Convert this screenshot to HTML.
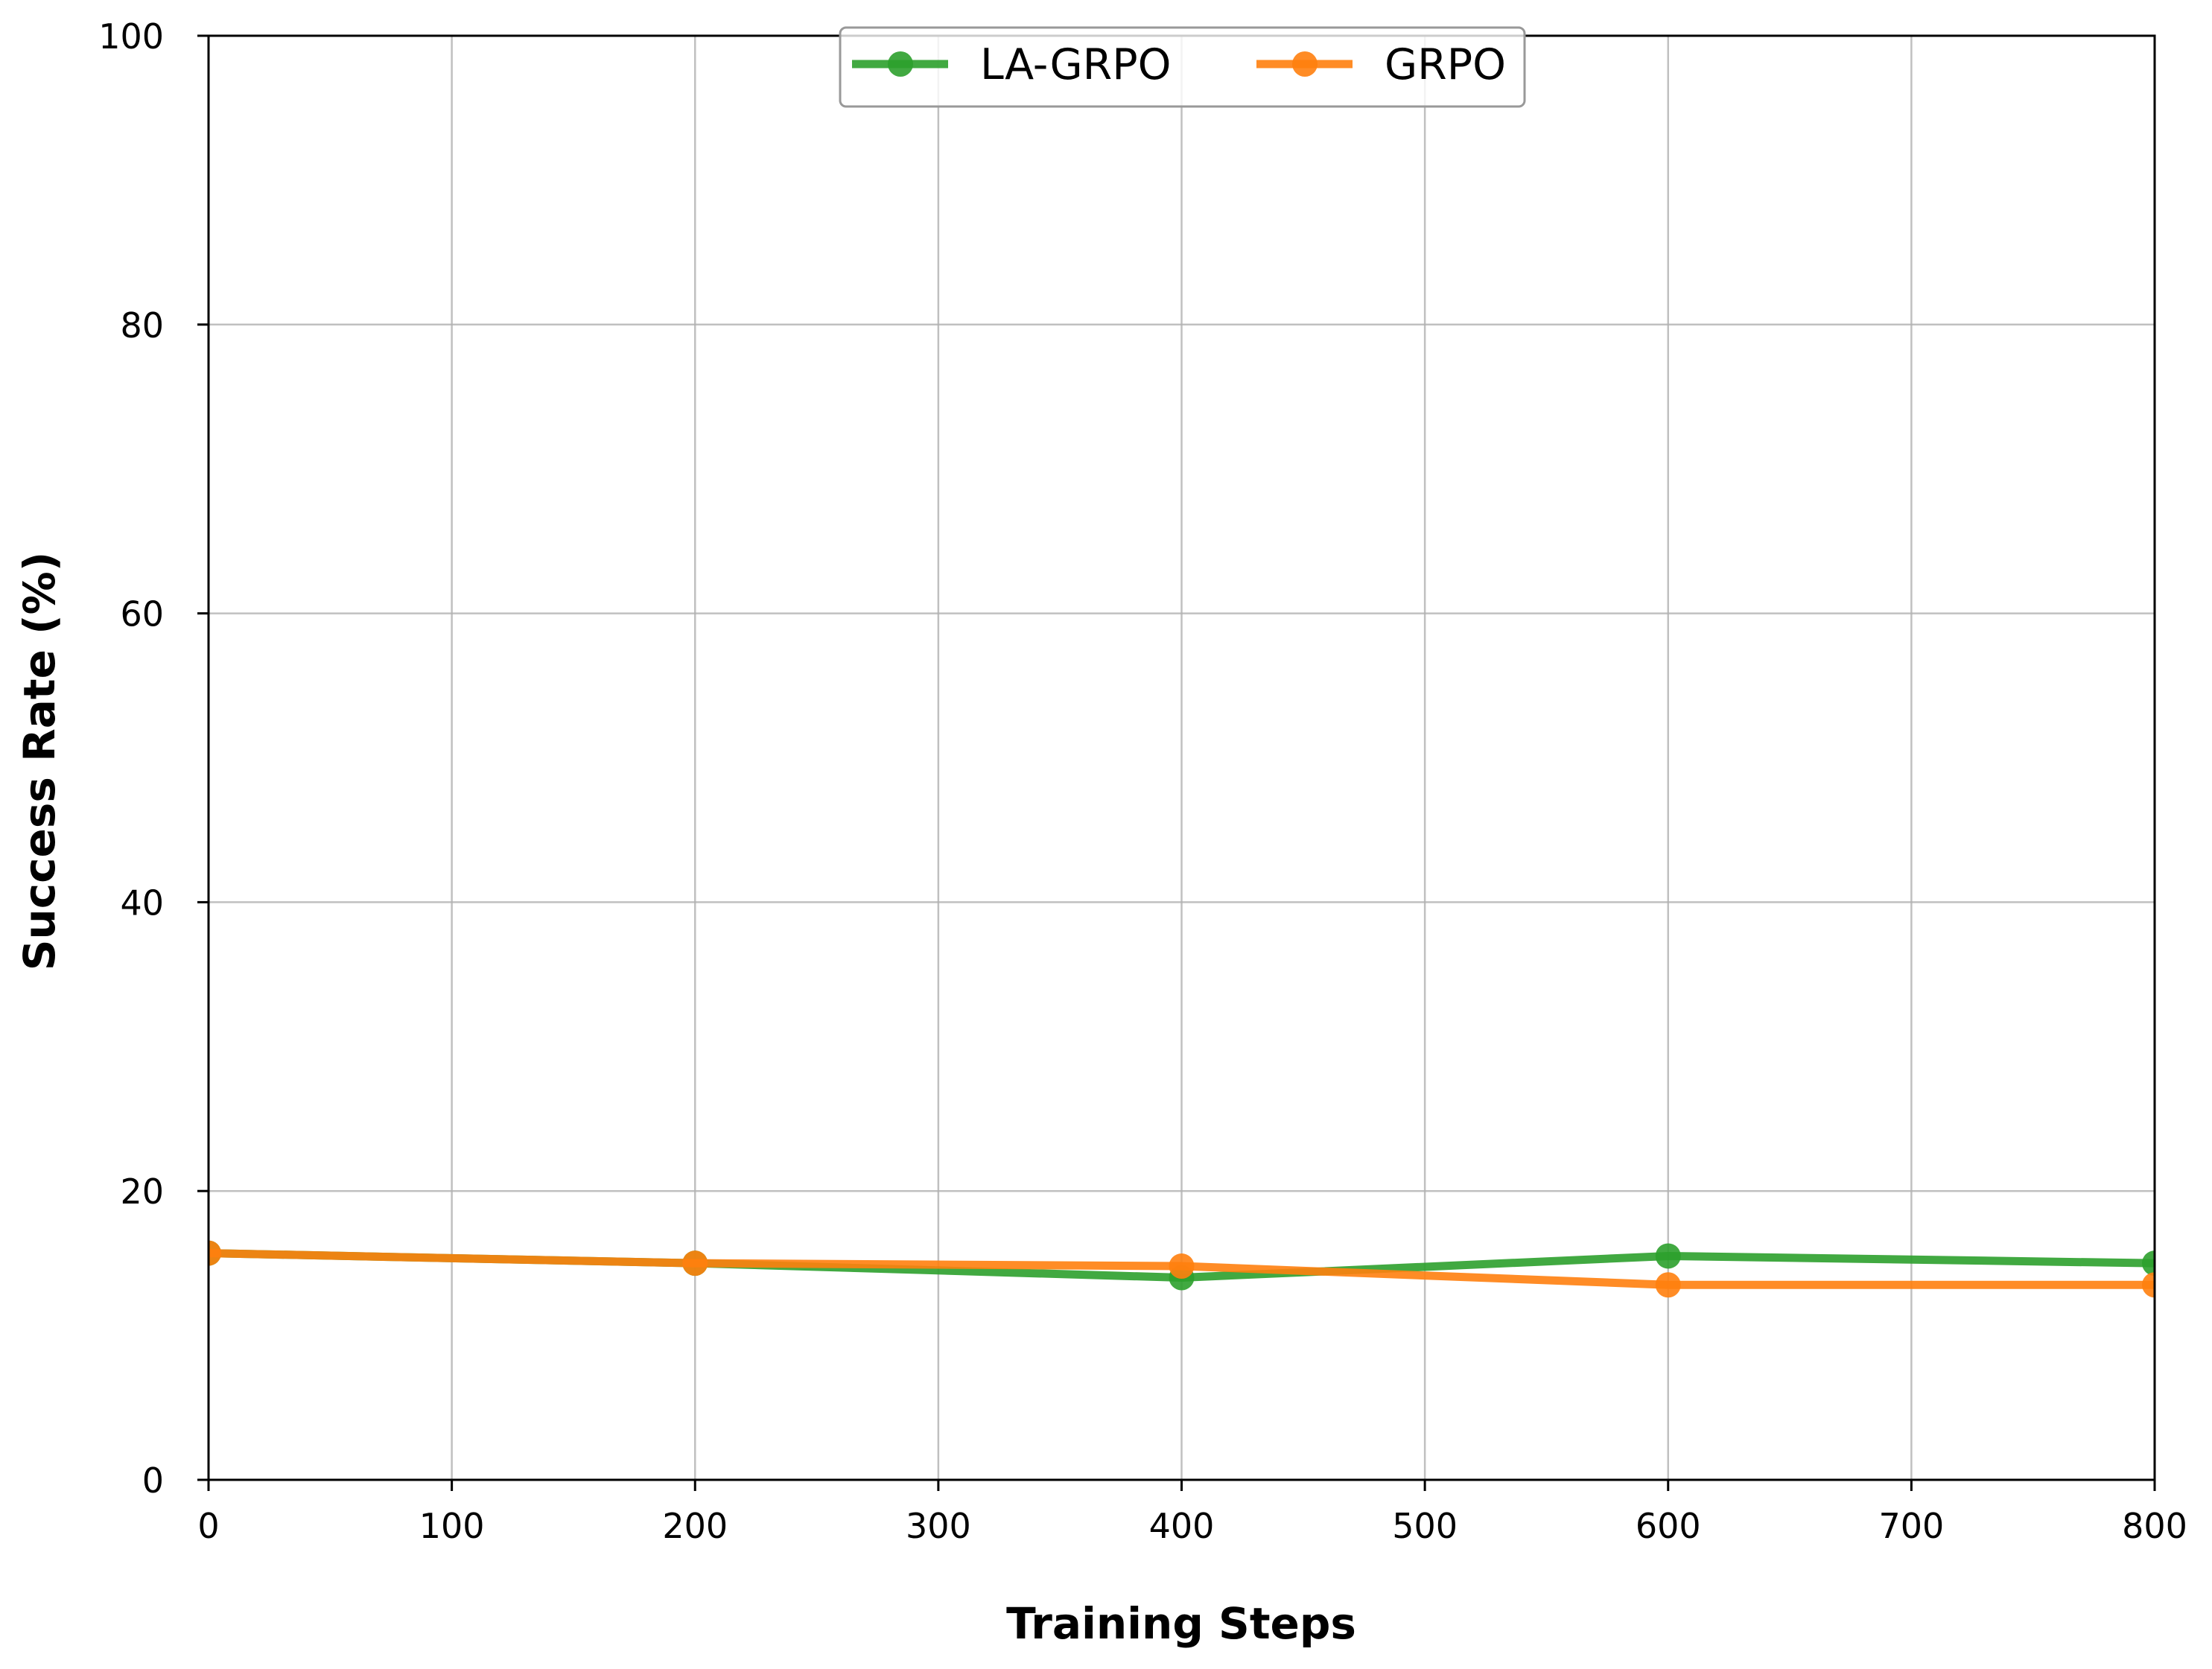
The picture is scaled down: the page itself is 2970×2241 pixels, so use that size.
<!DOCTYPE html>
<html><head><meta charset="utf-8"><style>
html,body{margin:0;padding:0;background:#fff}
svg{display:block}
text{font-family:"DejaVu Sans","Liberation Sans",sans-serif}
</style></head><body>
<svg id="chart" width="2970" height="2241" viewBox="0 0 2970 2241" xmlns="http://www.w3.org/2000/svg">
<defs><clipPath id="plotclip"><rect x="280" y="48" width="2613" height="1939"/></clipPath></defs>
<rect width="2970" height="2241" fill="#fff"/>
<g id="grid"></g>
<g id="series" clip-path="url(#plotclip)"></g>
<g id="axes"></g>
<text x="1586" y="2200" font-size="58" font-weight="bold" text-anchor="middle">Training Steps</text>
<text transform="translate(73,1022) rotate(-90)" font-size="58" font-weight="bold" text-anchor="middle">Success Rate (%)</text>
<g>
<rect x="1128" y="37" width="919" height="106" rx="8" fill="#fff" fill-opacity="0.8" stroke="#999" stroke-width="3"/>
<g>
<line x1="1144" y1="86" x2="1273" y2="86" stroke="#2ca02c" stroke-opacity="0.9" stroke-width="11"/>
<circle cx="1209" cy="86" r="17" fill="#2ca02c" fill-opacity="0.9"/>
<text x="1316" y="106" font-size="57">LA-GRPO</text>
</g>
<g>
<line x1="1687" y1="86" x2="1816" y2="86" stroke="#ff7f0e" stroke-opacity="0.9" stroke-width="11"/>
<circle cx="1752" cy="86" r="17" fill="#ff7f0e" fill-opacity="0.9"/>
<text x="1859" y="106" font-size="57">GRPO</text>
</g>
</g>
</svg>
<script>
const steps = [0, 200, 400, 600, 800];
const laGrpo = [15.7, 15.0, 14.0, 15.5, 15.0];
const grpo = [15.7, 15.0, 14.8, 13.5, 13.5];
const xTicks = [0, 100, 200, 300, 400, 500, 600, 700, 800];
const yTicks = [0, 20, 40, 60, 80, 100];

const NS = "http://www.w3.org/2000/svg";
const L = 280, R = 2893, T = 48, B = 1987;
function xs(v){ return L + (v - 0) / 800 * (R - L); }
function ys(v){ return B - (v - 0) / 100 * (B - T); }
function mk(tag, attrs, parent){
  const e = document.createElementNS(NS, tag);
  for (const k in attrs) e.setAttribute(k, attrs[k]);
  parent.appendChild(e);
  return e;
}
const grid = document.getElementById('grid');
const axes = document.getElementById('axes');
const series = document.getElementById('series');

xTicks.forEach(t => {
  const g = mk('line', {x1: xs(t), x2: xs(t), y1: T, y2: B, stroke: '#b0b0b0', 'stroke-opacity': 0.8, 'stroke-width': 2.5}, grid);
  
  
  const tk = mk('line', {x1: xs(t), x2: xs(t), y1: B, y2: B + 15, stroke: '#000', 'stroke-width': 3}, axes);
  
  
  const lb = mk('text', {x: xs(t), y: B + 78, 'font-size': 46, 'text-anchor': 'middle'}, axes);
  lb.textContent = t;
  
  
});
yTicks.forEach(t => {
  const g = mk('line', {x1: L, x2: R, y1: ys(t), y2: ys(t), stroke: '#b0b0b0', 'stroke-opacity': 0.8, 'stroke-width': 2.5}, grid);
  
  
  const tk = mk('line', {x1: L - 15, x2: L, y1: ys(t), y2: ys(t), stroke: '#000', 'stroke-width': 3}, axes);
  
  
  const lb = mk('text', {x: L - 60, y: ys(t) + 17, 'font-size': 46, 'text-anchor': 'end'}, axes);
  lb.textContent = t;
  
  
});
const frame = mk('rect', {x: L, y: T, width: R - L, height: B - T, fill: 'none', stroke: '#000', 'stroke-width': 3}, axes);



function drawSeries(vals, color, name){
  const pts = steps.map((s, i) => xs(s) + ',' + ys(vals[i])).join(' ');
  const pl = mk('polyline', {points: pts, fill: 'none', stroke: color, 'stroke-opacity': 0.9, 'stroke-width': 11, 'stroke-linejoin': 'round'}, series);
  
  
  steps.forEach((s, i) => {
    const c = mk('circle', {cx: xs(s), cy: ys(vals[i]), r: 17, fill: color, 'fill-opacity': 0.9}, series);
    
    
  });
}
drawSeries(laGrpo, '#2ca02c', 'la-grpo');
drawSeries(grpo, '#ff7f0e', 'grpo');
</script>
</body></html>
